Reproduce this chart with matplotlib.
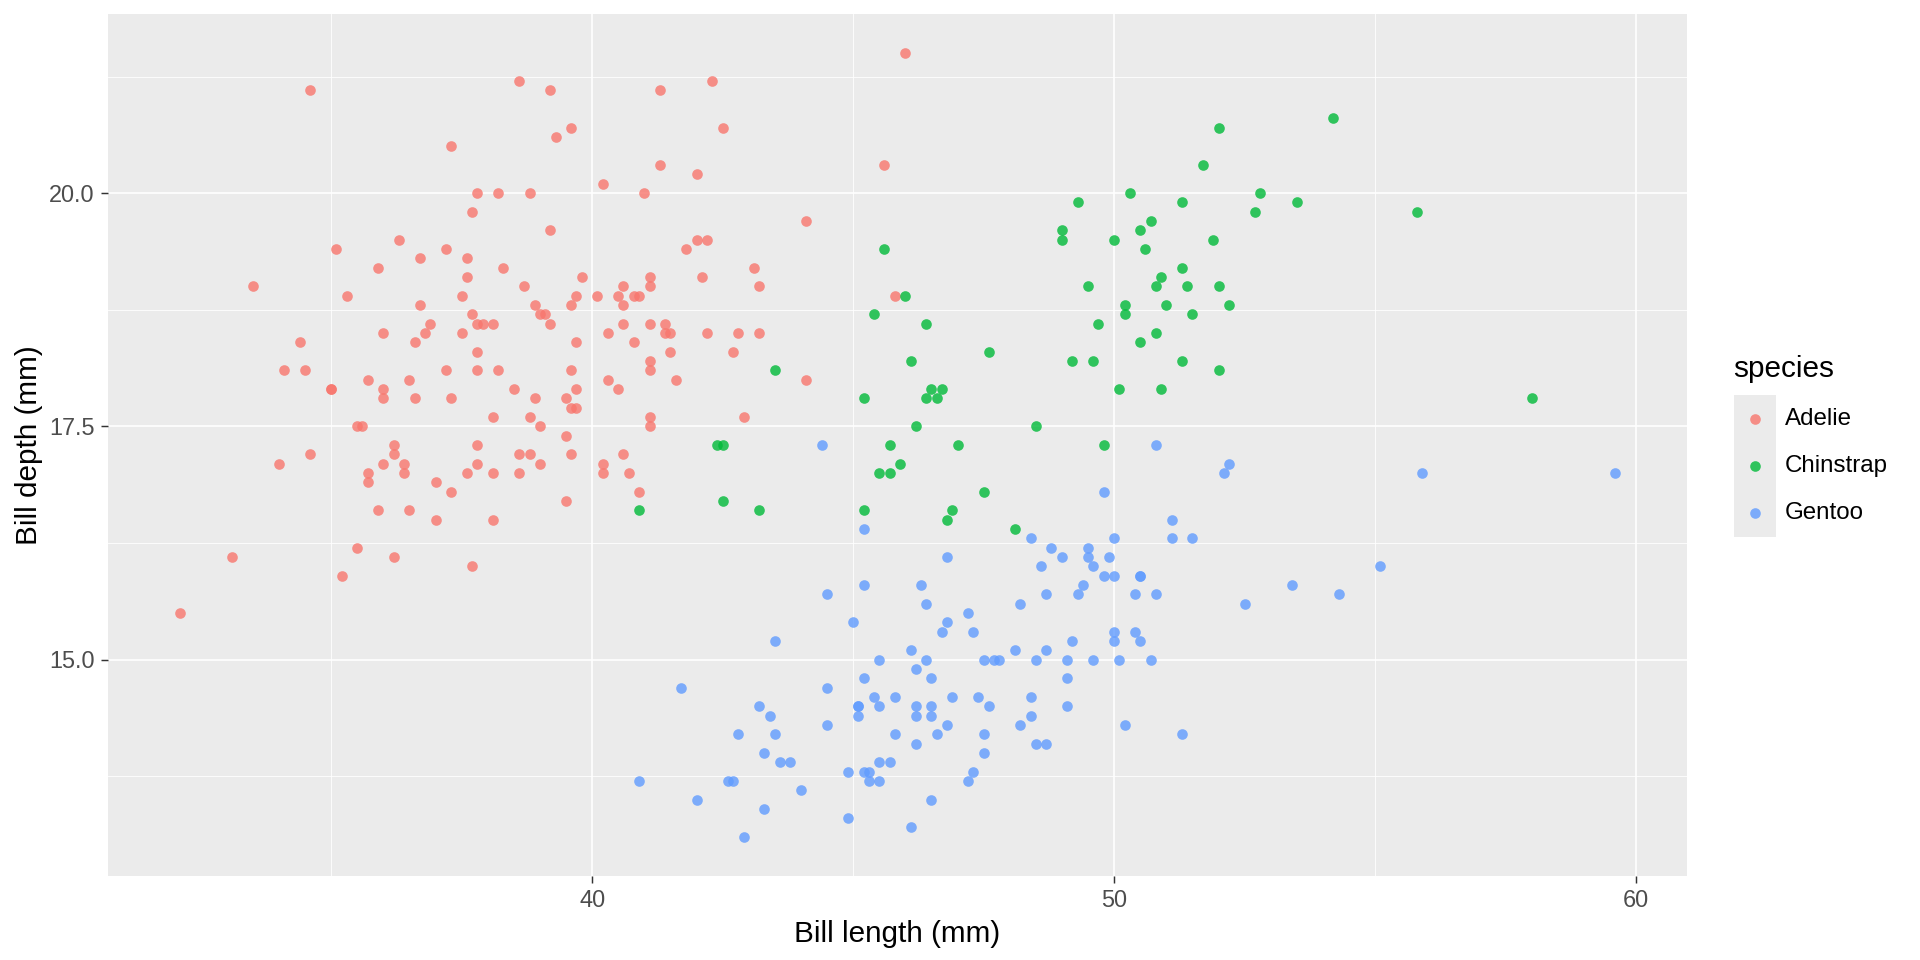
import matplotlib
matplotlib.use("Agg")
import matplotlib.pyplot as plt

plt.rcParams['font.family'] = ['Liberation Sans', 'DejaVu Sans']

# ---------------- data ----------------
species = ["Adelie", "Chinstrap", "Gentoo"]
colors = ["#F8766D", "#00BA38", "#619CFF"]

adelie_len = [34.6, 35.1, 36.3, 36.7, 35.9,
              38.6, 39.2, 39.6, 39.3, 37.3, 37.8, 38.2, 38.8, 37.7, 39.2, 37.2, 37.6, 38.3,
              41.3, 42.3, 42.5, 41.3, 42.0, 40.2, 41.0, 41.8, 42.0, 42.2,
              33.5, 35.3, 36.7, 36.9, 36.8, 36.0, 36.6, 34.4, 34.1, 34.5, 35.0, 35.0, 35.7, 36.5,
              36.0, 36.0, 36.6, 35.5, 35.6, 34.6, 34.0, 36.2, 36.2, 36.0, 36.4, 36.4, 35.7, 35.7,
              35.9, 36.5,
              37.6, 39.8, 38.7, 37.5, 39.7, 38.9, 39.6, 37.7, 39.0, 39.1, 37.8, 37.9, 38.1, 39.2,
              37.5, 39.7, 37.8, 37.2, 37.8, 38.2, 39.6, 38.5, 39.7, 37.3, 38.9, 39.5, 39.6, 39.7,
              38.1, 38.8, 39.0, 39.5, 37.8, 38.6, 38.8, 39.6, 37.8, 39.0, 37.6, 38.1, 38.6, 37.0,
              37.3, 39.5,
              41.1, 42.1, 40.6, 41.1, 40.1, 40.5, 40.8, 40.9, 40.6, 40.6, 41.1, 41.4, 40.3, 41.4,
              41.5, 42.2, 42.8, 40.8, 41.5, 42.7, 41.1, 41.1, 40.3, 41.6, 40.5, 41.1, 41.1, 40.2,
              40.6, 40.2, 40.7, 40.9, 42.9,
              37.0, 38.1, 33.1, 35.5, 36.2, 37.7, 35.2, 32.1,
              46.0, 45.6, 44.1, 43.1, 43.2, 45.8, 43.2, 44.1]
adelie_dep = [21.1, 19.4, 19.5, 19.3, 19.2,
              21.2, 21.1, 20.7, 20.6, 20.5, 20.0, 20.0, 20.0, 19.8, 19.6, 19.4, 19.3, 19.2,
              21.1, 21.2, 20.7, 20.3, 20.2, 20.1, 20.0, 19.4, 19.5, 19.5,
              19.0, 18.9, 18.8, 18.6, 18.5, 18.5, 18.4, 18.4, 18.1, 18.1, 17.9, 17.9, 18.0, 18.0,
              17.9, 17.8, 17.8, 17.5, 17.5, 17.2, 17.1, 17.3, 17.2, 17.1, 17.1, 17.0, 17.0, 16.9,
              16.6, 16.6,
              19.1, 19.1, 19.0, 18.9, 18.9, 18.8, 18.8, 18.7, 18.7, 18.7, 18.6, 18.6, 18.6, 18.6,
              18.5, 18.4, 18.3, 18.1, 18.1, 18.1, 18.1, 17.9, 17.9, 17.8, 17.8, 17.8, 17.7, 17.7,
              17.6, 17.6, 17.5, 17.4, 17.3, 17.2, 17.2, 17.2, 17.1, 17.1, 17.0, 17.0, 17.0, 16.9,
              16.8, 16.7,
              19.1, 19.1, 19.0, 19.0, 18.9, 18.9, 18.9, 18.9, 18.8, 18.6, 18.6, 18.6, 18.5, 18.5,
              18.5, 18.5, 18.5, 18.4, 18.3, 18.3, 18.2, 18.1, 18.0, 18.0, 17.9, 17.6, 17.5, 17.1,
              17.2, 17.0, 17.0, 16.8, 17.6,
              16.5, 16.5, 16.1, 16.2, 16.1, 16.0, 15.9, 15.5,
              21.5, 20.3, 19.7, 19.2, 19.0, 18.9, 18.5, 18.0]

chinstrap_len = [42.4, 42.5, 42.5, 40.9,
                 46.0, 45.6, 45.4, 46.4, 47.6, 46.1,
                 43.5, 46.5, 46.7, 46.4, 46.6, 45.2, 46.2, 48.5, 45.7, 47.0, 45.9, 45.5, 45.7,
                 47.5, 43.2, 45.2, 46.9, 46.8, 48.1,
                 54.2, 52.0, 51.7, 50.3, 52.8, 49.3, 51.3, 53.5, 52.7, 50.7, 50.5, 49.0, 49.0,
                 50.0, 51.9, 50.6, 51.3, 50.9, 49.5, 50.8, 51.4, 52.0, 50.2, 51.0, 52.2, 50.2,
                 51.5, 49.7, 50.8, 50.5, 49.2, 49.6, 51.3, 52.0, 50.1, 50.9,
                 55.8, 58.0, 49.8]
chinstrap_dep = [17.3, 17.3, 16.7, 16.6,
                 18.9, 19.4, 18.7, 18.6, 18.3, 18.2,
                 18.1, 17.9, 17.9, 17.8, 17.8, 17.8, 17.5, 17.5, 17.3, 17.3, 17.1, 17.0, 17.0,
                 16.8, 16.6, 16.6, 16.6, 16.5, 16.4,
                 20.8, 20.7, 20.3, 20.0, 20.0, 19.9, 19.9, 19.9, 19.8, 19.7, 19.6, 19.6, 19.5,
                 19.5, 19.5, 19.4, 19.2, 19.1, 19.0, 19.0, 19.0, 19.0, 18.8, 18.8, 18.8, 18.7,
                 18.7, 18.6, 18.5, 18.4, 18.2, 18.2, 18.2, 18.1, 17.9, 17.9,
                 19.8, 17.8, 17.3]

gentoo_len = [44.4, 45.2, 48.4, 48.8, 49.0, 46.8, 48.6, 45.2, 46.3, 44.5, 48.7, 46.4, 48.2,
              55.9, 59.6, 55.1,
              47.2, 45.0, 46.8, 46.7, 47.3, 43.5, 46.1, 45.5, 46.4, 47.5, 47.7, 47.8, 46.2,
              45.2, 46.5, 41.7, 44.5, 45.4, 45.8, 46.9, 47.4, 43.2, 45.1, 45.1, 45.5, 46.2,
              46.5, 47.6, 43.4, 45.1, 46.2, 46.5, 44.5, 46.8, 42.8, 43.5, 45.8, 46.6, 47.5,
              46.2, 43.3, 47.5, 43.6, 43.8, 45.5, 45.7, 44.9, 45.2, 45.3, 47.3, 40.9, 42.6,
              42.7, 45.3, 45.5, 47.2, 44.0, 42.0, 46.5, 43.3, 44.9, 46.1, 42.9,
              50.8, 52.2, 52.1, 49.8, 51.1, 50.0, 51.1, 51.5, 49.5, 49.5, 49.9, 49.6, 49.8,
              50.0, 50.5, 50.5, 49.4, 53.4, 49.3, 50.4, 50.8, 54.3, 52.5,
              48.1, 48.7, 49.2, 50.0, 50.4, 50.0, 50.5, 48.5, 49.1, 49.6, 50.1, 50.7, 49.1,
              48.4, 49.1, 48.4, 48.2, 50.2, 51.3, 48.5, 48.7]
gentoo_dep = [17.3, 16.4, 16.3, 16.2, 16.1, 16.1, 16.0, 15.8, 15.8, 15.7, 15.7, 15.6, 15.6,
              17.0, 17.0, 16.0,
              15.5, 15.4, 15.4, 15.3, 15.3, 15.2, 15.1, 15.0, 15.0, 15.0, 15.0, 15.0, 14.9,
              14.8, 14.8, 14.7, 14.7, 14.6, 14.6, 14.6, 14.6, 14.5, 14.5, 14.5, 14.5, 14.5,
              14.5, 14.5, 14.4, 14.4, 14.4, 14.4, 14.3, 14.3, 14.2, 14.2, 14.2, 14.2, 14.2,
              14.1, 14.0, 14.0, 13.9, 13.9, 13.9, 13.9, 13.8, 13.8, 13.8, 13.8, 13.7, 13.7,
              13.7, 13.7, 13.7, 13.7, 13.6, 13.5, 13.5, 13.4, 13.3, 13.2, 13.1,
              17.3, 17.1, 17.0, 16.8, 16.5, 16.3, 16.3, 16.3, 16.2, 16.1, 16.1, 16.0, 15.9,
              15.9, 15.9, 15.9, 15.8, 15.8, 15.7, 15.7, 15.7, 15.7, 15.6,
              15.1, 15.1, 15.2, 15.3, 15.3, 15.2, 15.2, 15.0, 15.0, 15.0, 15.0, 15.0, 14.8,
              14.6, 14.5, 14.4, 14.3, 14.3, 14.2, 14.1, 14.1]

x_ticks = [40, 50, 60]
x_tick_labels = ["40", "50", "60"]
x_minor = [35, 45, 55]
y_ticks = [15.0, 17.5, 20.0]
y_tick_labels = ["15.0", "17.5", "20.0"]
y_minor = [13.75, 16.25, 18.75, 21.25]

x_title = "Bill length (mm)"
y_title = "Bill depth (mm)"
legend_title = "species"

# ---------------- figure ----------------
W, H = 1920, 960
DPI = 150
fig = plt.figure(figsize=(W / DPI, H / DPI), dpi=DPI)
fig.patch.set_facecolor("white")

ax = fig.add_axes([108 / W, 1 - 876 / H, (1687 - 108) / W, (876 - 14) / H])
ax.set_facecolor("#EBEBEB")
for s in ax.spines.values():
    s.set_visible(False)

series = [(adelie_len, adelie_dep), (chinstrap_len, chinstrap_dep), (gentoo_len, gentoo_dep)]
PT = 26
for (xs, ys), c in zip(series, colors):
    ax.scatter(xs, ys, s=PT, color=c, alpha=0.8, linewidths=0, zorder=3)

all_x = adelie_len + chinstrap_len + gentoo_len
all_y = adelie_dep + chinstrap_dep + gentoo_dep
xr = max(all_x) - min(all_x)
yr = max(all_y) - min(all_y)
ax.set_xlim(min(all_x) - 0.05 * xr, max(all_x) + 0.05 * xr)
ax.set_ylim(min(all_y) - 0.05 * yr, max(all_y) + 0.05 * yr)

ax.set_xticks(x_ticks)
ax.set_xticklabels(x_tick_labels)
ax.set_yticks(y_ticks)
ax.set_yticklabels(y_tick_labels)
ax.set_xticks(x_minor, minor=True)
ax.set_yticks(y_minor, minor=True)
ax.grid(which="major", color="white", linewidth=0.8, zorder=1)
ax.grid(which="minor", color="white", linewidth=0.4, zorder=1)
ax.set_axisbelow(True)
ax.tick_params(which="major", length=3.5, width=0.7, color="#333333",
               labelsize=11.3, labelcolor="#4D4D4D", pad=3)
ax.tick_params(which="minor", length=0)

ax.set_xlabel(x_title, fontsize=14.3, color="black", labelpad=4)
ax.set_ylabel(y_title, fontsize=14.3, color="black", labelpad=3)

# ---------------- legend ----------------
key_left, key_right = 1734, 1776
key_top, key_bot = 395, 537
lax = fig.add_axes([key_left / W, 1 - key_bot / H, (key_right - key_left) / W, (key_bot - key_top) / H])
lax.set_facecolor("#EBEBEB")
for s in lax.spines.values():
    s.set_visible(False)
lax.set_xticks([])
lax.set_yticks([])
lax.set_xlim(0, 1)
lax.set_ylim(0, len(species))
for i, (name, c) in enumerate(zip(species, colors)):
    yy = len(species) - i - 0.5
    lax.scatter([0.5], [yy], s=PT, color=c, alpha=0.8, linewidths=0)
    fig.text(1785 / W, 1 - (key_top + (i + 0.5) * (key_bot - key_top) / len(species)) / H,
             name, fontsize=11.6, color="black", va="center", ha="left")
fig.text(1733 / W, 1 - 369 / H, legend_title, fontsize=14.3, color="black",
         va="center", ha="left")

fig.savefig("out.png", dpi=DPI)
